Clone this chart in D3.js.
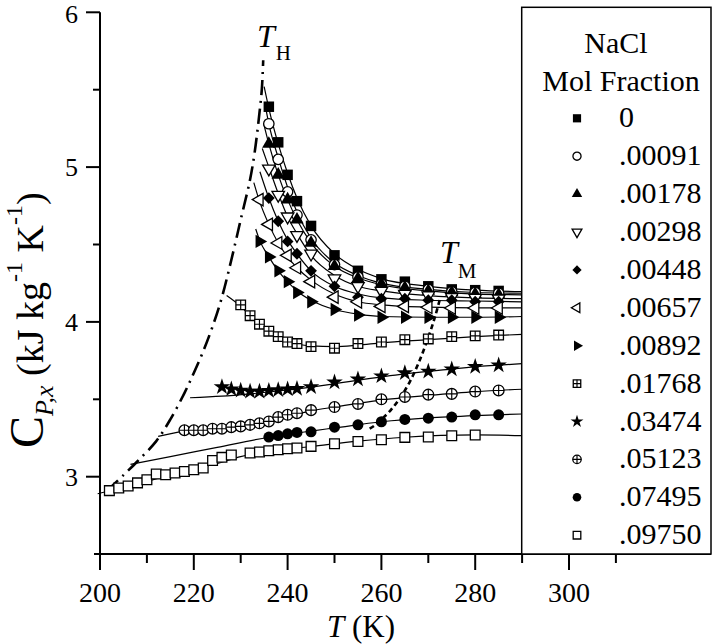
<!DOCTYPE html>
<html><head><meta charset="utf-8">
<script src="https://cdn.jsdelivr.net/npm/d3@7"></script>
<style>
html,body{margin:0;padding:0;background:#fff;}
svg{display:block;}
</style></head>
<body>
<svg id="chart" width="712" height="644"></svg>
<script>
// ---------------- DATA ----------------
const molFractions = ["0", ".00091", ".00178", ".00298", ".00448", ".00657", ".00892", ".01768", ".03474", ".05123", ".07495", ".09750"];

const T_a = [236, 238, 240, 242, 245, 250, 255, 260, 265, 270, 275, 280, 285];
const cp_0     = [5.39, 5.16, 4.95, 4.78, 4.62, 4.43, 4.33, 4.275, 4.26, 4.23, 4.21, 4.205, 4.20];
const cp_00091 = [5.28, 5.05, 4.84, 4.69, 4.53, 4.37, 4.29, 4.245, 4.23, 4.21, 4.195, 4.19, 4.185];
const cp_00178 = [5.15, 4.95, 4.79, 4.66, 4.51, 4.36, 4.28, 4.245, 4.22, 4.20, 4.19, 4.18, 4.175];
const cp_00298 = [4.99, 4.82, 4.68, 4.56, 4.44, 4.28, 4.23, 4.20, 4.18, 4.17, 4.16, 4.155, 4.15];
const cp_00448 = [4.80, 4.65, 4.52, 4.44, 4.33, 4.23, 4.16, 4.15, 4.15, 4.14, 4.14, 4.13, 4.13];

const T_b = [234, 236, 238, 240, 242, 245, 250, 255, 260, 265, 270, 275, 280, 285];
const cp_00657 = [4.79, 4.63, 4.51, 4.43, 4.35, 4.26, 4.16, 4.13, 4.10, 4.10, 4.095, 4.09, 4.09, 4.09];
const cp_00892 = [4.52, 4.42, 4.33, 4.26, 4.19, 4.13, 4.08, 4.045, 4.03, 4.03, 4.03, 4.03, 4.03, 4.03];

const T_01768 = [230, 232, 234, 236, 238, 240, 242, 245, 250, 255, 260, 265, 270, 275, 280, 285];
const cp_01768 = [4.11, 4.04, 3.985, 3.94, 3.905, 3.87, 3.86, 3.84, 3.83, 3.86, 3.87, 3.885, 3.89, 3.905, 3.91, 3.915];

const T_03474 = [226, 228, 230, 232, 234, 236, 238, 240, 242, 245, 250, 255, 260, 265, 270, 275, 280, 285];
const cp_03474 = [3.58, 3.566, 3.557, 3.55, 3.55, 3.555, 3.56, 3.566, 3.568, 3.58, 3.61, 3.63, 3.65, 3.67, 3.68, 3.695, 3.71, 3.72];

const T_05123 = [218, 220, 222, 224, 226, 228, 230, 232, 234, 236, 238, 240, 242, 245, 250, 255, 260, 265, 270, 275, 280, 285];
const cp_05123 = [3.30, 3.30, 3.30, 3.31, 3.31, 3.32, 3.325, 3.335, 3.345, 3.357, 3.385, 3.40, 3.41, 3.43, 3.45, 3.47, 3.50, 3.515, 3.53, 3.535, 3.55, 3.557];

const T_07495 = [236, 238, 240, 242, 245, 250, 255, 260, 265, 270, 275, 280, 285];
const cp_07495 = [3.256, 3.266, 3.277, 3.286, 3.29, 3.32, 3.335, 3.355, 3.37, 3.378, 3.385, 3.40, 3.40];

const T_09750 = [202, 204, 206, 208, 210, 212, 214, 216, 218, 220, 222, 224, 226, 228, 232, 234, 236, 238, 240, 242, 245, 250, 255, 260, 265, 270, 275, 280];
const cp_09750 = [2.91, 2.927, 2.94, 2.96, 2.98, 3.017, 3.013, 3.024, 3.034, 3.045, 3.056, 3.105, 3.125, 3.14, 3.153, 3.16, 3.168, 3.174, 3.18, 3.185, 3.196, 3.213, 3.228, 3.239, 3.254, 3.256, 3.265, 3.27];

// fitted curves (knots): [T, Cp]
const fit_0     = [[235.0,5.52],[236,5.38],[238,5.15],[240,4.96],[242,4.80],[245,4.62],[250,4.44],[255,4.34],[260,4.28],[270,4.23],[280,4.205],[290,4.195]];
const fit_00091 = [[235.1,5.42],[236,5.28],[238,5.06],[240,4.87],[242,4.71],[245,4.54],[250,4.38],[255,4.30],[260,4.25],[270,4.21],[280,4.19],[290,4.185]];
const fit_00178 = [[234.9,5.28],[236,5.15],[238,4.95],[240,4.79],[242,4.66],[245,4.51],[250,4.36],[255,4.285],[260,4.24],[270,4.20],[280,4.18],[290,4.175]];
const fit_00298 = [[234.6,5.12],[236,5.00],[238,4.83],[240,4.68],[242,4.57],[245,4.43],[250,4.30],[255,4.23],[260,4.20],[270,4.17],[280,4.155],[290,4.15]];
const fit_00448 = [[234.1,4.97],[236,4.80],[238,4.65],[240,4.53],[242,4.44],[245,4.33],[250,4.23],[255,4.18],[260,4.155],[270,4.14],[280,4.135],[290,4.13]];
const fit_00657 = [[232.8,4.90],[234,4.78],[236,4.63],[238,4.51],[240,4.42],[242,4.35],[245,4.27],[250,4.18],[255,4.13],[260,4.11],[270,4.095],[280,4.09],[290,4.09]];
const fit_00892 = [[233.2,4.60],[234,4.53],[236,4.42],[238,4.33],[240,4.26],[242,4.20],[245,4.14],[250,4.08],[255,4.05],[260,4.035],[270,4.03],[280,4.03],[290,4.035]];
const fit_01768 = [[227,4.17],[230,4.10],[232,4.04],[234,3.985],[236,3.94],[238,3.905],[240,3.875],[245,3.845],[250,3.84],[255,3.85],[260,3.865],[270,3.885],[280,3.905],[290,3.92]];
const fit_03474 = [[219.2,3.51],[226,3.52],[232,3.535],[240,3.56],[250,3.60],[260,3.645],[270,3.68],[280,3.71],[290,3.73]];
const fit_05123 = [[212.4,3.26],[218,3.295],[224,3.31],[230,3.33],[236,3.36],[240,3.39],[245,3.425],[250,3.45],[260,3.495],[270,3.525],[280,3.55],[290,3.565]];
const fit_07495 = [[206.5,3.08],[215,3.13],[225,3.19],[236,3.255],[245,3.295],[250,3.315],[260,3.355],[270,3.38],[280,3.395],[290,3.405]];
const fit_09750 = [[199.5,2.89],[205,2.93],[210,2.97],[215,3.01],[220,3.05],[225,3.085],[230,3.13],[236,3.165],[245,3.195],[255,3.23],[265,3.255],[280,3.27],[290,3.265]];

// homogeneous nucleation (T_H) and melting (T_M) curves
const T_H = [[201.5,2.91],[205,3.01],[208,3.10],[212,3.23],[215,3.37],[218,3.54],[220,3.67],[222,3.81],[224,3.97],[226,4.16],[228,4.40],[230,4.66],[232,4.92],[233,5.10],[234,5.35],[234.5,5.50],[234.8,5.69]];
const T_M = [[257.5,3.31],[258.5,3.33],[260,3.37],[262,3.43],[264,3.51],[266,3.61],[268,3.74],[270,3.90],[271.5,4.04],[272.5,4.15]];

const xMajorTicks = [200, 220, 240, 260, 280, 300];
const xMinorTicks = [210, 230, 250, 270, 290, 310];
const yMajorTicks = [3, 4, 5, 6];
const yMinorTicks = [3.5, 4.5, 5.5];

// ---------------- SERIES TABLE ----------------
const series = [
  {T: T_a, cp: cp_0, fit: fit_0, m: "square"},
  {T: T_a, cp: cp_00091, fit: fit_00091, m: "circleOpen"},
  {T: T_a, cp: cp_00178, fit: fit_00178, m: "triUp"},
  {T: T_a, cp: cp_00298, fit: fit_00298, m: "triDownOpen"},
  {T: T_a, cp: cp_00448, fit: fit_00448, m: "diamond"},
  {T: T_b, cp: cp_00657, fit: fit_00657, m: "triLeftOpen"},
  {T: T_b, cp: cp_00892, fit: fit_00892, m: "triRight"},
  {T: T_01768, cp: cp_01768, fit: fit_01768, m: "squarePlus"},
  {T: T_03474, cp: cp_03474, fit: fit_03474, m: "star"},
  {T: T_05123, cp: cp_05123, fit: fit_05123, m: "circlePlus"},
  {T: T_07495, cp: cp_07495, fit: fit_07495, m: "circle"},
  {T: T_09750, cp: cp_09750, fit: fit_09750, m: "squareOpen"}
];

// ---------------- DRAW ----------------
const FONT = "serif";
const svg = d3.select("#chart");
const x = d3.scaleLinear().domain([200, 300]).range([100, 569]);
const y = d3.scaleLinear().domain([3, 6]).range([476.7, 12.3]);
const yBottom = 554;

function txt(sel) { return sel.attr("font-family", FONT); }

function marker(g, type, cx, cy, s) {
  const sel = g.append("g").attr("transform", `translate(${cx},${cy})`);
  const sw = 1.3;
  const sym = (t, area, rot) => sel.append("path").attr("d", d3.symbol().type(t).size(area)()).attr("transform", rot ? `rotate(${rot})` : null);
  switch (type) {
    case "square": sym(d3.symbolSquare, 110*s*s).attr("fill","#000"); break;
    case "squareOpen": sym(d3.symbolSquare, 95*s*s).attr("fill","#fff").attr("stroke","#000").attr("stroke-width",sw); break;
    case "squarePlus": {
      const h = 4.8*s;
      sym(d3.symbolSquare, (2*h)*(2*h)).attr("fill","#fff").attr("stroke","#000").attr("stroke-width",sw);
      sel.append("path").attr("d", `M${-h},0H${h}M0,${-h}V${h}`).attr("stroke","#000").attr("stroke-width",sw*0.9);
      break; }
    case "circle": sel.append("circle").attr("r", 5.5*s).attr("fill","#000"); break;
    case "circleOpen": sel.append("circle").attr("r", 5.2*s).attr("fill","#fff").attr("stroke","#000").attr("stroke-width",sw); break;
    case "circlePlus": {
      const r = 5.4*s;
      sel.append("circle").attr("r", r).attr("fill","#fff").attr("stroke","#000").attr("stroke-width",sw);
      sel.append("path").attr("d", `M${-r},0H${r}M0,${-r}V${r}`).attr("stroke","#000").attr("stroke-width",sw*0.9);
      break; }
    case "triUp": sym(d3.symbolTriangle, 78*s*s).attr("fill","#000"); break;
    case "triDownOpen": sym(d3.symbolTriangle, 68*s*s, 180).attr("fill","#fff").attr("stroke","#000").attr("stroke-width",sw); break;
    case "triLeftOpen": sym(d3.symbolTriangle, 68*s*s, -90).attr("fill","#fff").attr("stroke","#000").attr("stroke-width",sw); break;
    case "triRight": sym(d3.symbolTriangle, 78*s*s, 90).attr("fill","#000"); break;
    case "diamond": sym(d3.symbolSquare, 70*s*s, 45).attr("fill","#000"); break;
    case "star": sym(d3.symbolStar, 85*s*s).attr("fill","#000"); break;
  }
}

// fitted lines
const fitLine = d3.line().x(d => x(d[0])).y(d => y(d[1])).curve(d3.curveMonotoneX);
series.forEach(s => {
  svg.append("path").attr("d", fitLine(s.fit)).attr("fill","none").attr("stroke","#000").attr("stroke-width",1.2);
});

// T_H and T_M curves
const curveLine = d3.line().x(d => x(d[0])).y(d => y(d[1])).curve(d3.curveCatmullRom);
svg.append("path").attr("d", curveLine(T_H)).attr("fill","none").attr("stroke","#000")
  .attr("stroke-width",2.6).attr("stroke-dasharray","15,6,2,6");
svg.append("path").attr("d", curveLine(T_M)).attr("fill","none").attr("stroke","#000")
  .attr("stroke-width",2.6).attr("stroke-dasharray","5,3.5");

// markers
const mg = svg.append("g");
series.forEach(s => {
  s.T.forEach((t, i) => marker(mg, s.m, x(t), y(s.cp[i]), 1));
});

// curve labels
const lab1 = txt(svg.append("text")).attr("x", 257).attr("y", 47).attr("font-size", 32);
lab1.append("tspan").attr("font-style","italic").text("T");
lab1.append("tspan").attr("font-size", 21).attr("dx", 1).attr("dy", 13).text("H");
const lab2 = txt(svg.append("text")).attr("x", 440).attr("y", 263).attr("font-size", 32);
lab2.append("tspan").attr("font-style","italic").text("T");
lab2.append("tspan").attr("font-size", 21).attr("dx", 0).attr("dy", 15).text("M");

// axes
const ax = svg.append("g").attr("stroke","#000").attr("stroke-width",2);
ax.append("line").attr("x1",100).attr("x2",100).attr("y1",y(6)).attr("y2",yBottom);
ax.append("line").attr("x1",94).attr("x2",711).attr("y1",yBottom).attr("y2",yBottom);
yMajorTicks.forEach(v => ax.append("line").attr("x1",86).attr("x2",100).attr("y1",y(v)).attr("y2",y(v)));
yMinorTicks.forEach(v => ax.append("line").attr("x1",93).attr("x2",100).attr("y1",y(v)).attr("y2",y(v)));
xMajorTicks.forEach(v => ax.append("line").attr("x1",x(v)).attr("x2",x(v)).attr("y1",yBottom).attr("y2",yBottom+16));
xMinorTicks.forEach(v => ax.append("line").attr("x1",x(v)).attr("x2",x(v)).attr("y1",yBottom).attr("y2",yBottom+9));

yMajorTicks.forEach(v => txt(svg.append("text")).attr("x",78).attr("y",Math.max(y(v), 14)).attr("dy","0.34em")
  .attr("text-anchor","end").attr("font-size",26).text(d3.format("d")(v)));
xMajorTicks.forEach(v => txt(svg.append("text")).attr("x",x(v)).attr("y",602)
  .attr("text-anchor","middle").attr("font-size",28).text(v));

// x title
const xt = txt(svg.append("text")).attr("x", 327).attr("y", 637).attr("font-size", 31);
xt.append("tspan").attr("font-style","italic").text("T");
xt.append("tspan").text(" (K)");

// y title
const yt = txt(svg.append("text")).attr("transform","translate(43,448) rotate(-90)").attr("font-size",38);
yt.append("tspan").attr("font-size",48).text("C");
yt.append("tspan").attr("font-size",26).attr("font-style","italic").attr("dy",10).text("P,x");
yt.append("tspan").attr("dy",-10).text(" (kJ kg");
yt.append("tspan").attr("font-size",24).attr("dy",-21).text("-1");
yt.append("tspan").attr("dy",21).text(" K");
yt.append("tspan").attr("font-size",24).attr("dy",-21).text("-1");
yt.append("tspan").attr("dy",21).text(")");

// legend
svg.append("rect").attr("x",521.7).attr("y",7.3).attr("width",189.3).attr("height",yBottom-7.3)
  .attr("fill","#fff").attr("stroke","#000").attr("stroke-width",1.5);
txt(svg.append("text")).attr("x",616).attr("y",53).attr("text-anchor","middle").attr("font-size",30).text("NaCl");
txt(svg.append("text")).attr("x",621).attr("y",91).attr("text-anchor","middle").attr("font-size",30).text("Mol Fraction");
const lg = svg.append("g");
molFractions.forEach((f, i) => {
  const ry = 118.3 + i*37.9;
  marker(lg, series[i].m, 577, ry, 0.78);
  txt(lg.append("text")).attr("x",619).attr("y",ry+9).attr("font-size",30).text(f);
});
</script>
</body></html>
